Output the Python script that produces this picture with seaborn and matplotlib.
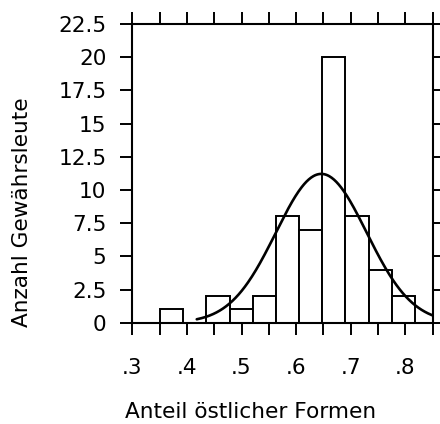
import numpy as np
import pandas as pd
import matplotlib
matplotlib.use("Agg")
import matplotlib.pyplot as plt
import seaborn as sns
from matplotlib.ticker import FixedLocator, FixedFormatter

# ---- data ----
bin_edges = [0.351, 0.3934, 0.4358, 0.4782, 0.5206, 0.563, 0.6054,
             0.6478, 0.6902, 0.7326, 0.775, 0.8174]
counts = [1, 0, 2, 1, 2, 8, 7, 20, 8, 4, 2]
# fitted normal curve (as drawn in the reference)
fit_mean = 0.646
fit_sd = 0.083
curve_start = 0.418
curve_end = 0.85

x_ticks = [0.3, 0.35, 0.4, 0.45, 0.5, 0.55, 0.6, 0.65, 0.7, 0.75, 0.8, 0.85]
x_ticklabels = [".3", "", ".4", "", ".5", "", ".6", "", ".7", "", ".8", ""]
y_ticks = [0, 2.5, 5, 7.5, 10, 12.5, 15, 17.5, 20, 22.5]
y_ticklabels = ["0", "2.5", "5", "7.5", "10", "12.5", "15", "17.5", "20", "22.5"]
x_label = "Anteil östlicher Formen"
y_label = "Anzahl Gewährsleute"

# ---- style ----
sns.set_style("ticks")
plt.rcParams["font.family"] = ["DejaVu Sans"]
plt.rcParams["text.color"] = "black"
FS = 15.6

fig = plt.figure(figsize=(4.4, 4.24), dpi=100)
W, H = 440, 424
ax = fig.add_axes([132.3 / W, 1 - 322.7 / H, (432.7 - 132.3) / W, (322.7 - 24) / H])

centers = [(bin_edges[i] + bin_edges[i + 1]) / 2 for i in range(len(counts))]
df = pd.DataFrame({"x": centers, "n": counts})
sns.histplot(data=df, x="x", weights="n", bins=bin_edges, ax=ax,
             color="white", edgecolor="black", linewidth=1.4, alpha=1.0)

n_total = sum(counts)
bw = (bin_edges[-1] - bin_edges[0]) / len(counts)
xs = np.linspace(curve_start, curve_end, 300)
ys = n_total * bw / (fit_sd * np.sqrt(2 * np.pi)) * np.exp(-0.5 * ((xs - fit_mean) / fit_sd) ** 2)
sns.lineplot(x=xs, y=ys, ax=ax, color="black", linewidth=1.9)

ax.set_xlim(0.3, 0.85)
ax.set_ylim(0, 22.5)
ax.xaxis.set_major_locator(FixedLocator(x_ticks))
ax.xaxis.set_major_formatter(FixedFormatter(x_ticklabels))
ax.yaxis.set_major_locator(FixedLocator(y_ticks))
ax.yaxis.set_major_formatter(FixedFormatter(y_ticklabels))
ax.set_xlabel("")
ax.set_ylabel("")

for s in ax.spines.values():
    s.set_visible(True)
    s.set_linewidth(1.5)
    s.set_color("black")

ax.tick_params(axis="x", which="both", direction="out", length=8.6, width=1.4,
               top=True, bottom=True, labeltop=False, labelsize=FS, pad=16.5,
               colors="black")
ax.tick_params(axis="y", which="both", direction="out", length=8.6, width=1.4,
               left=True, right=True, labelright=False, labelsize=FS, pad=10,
               colors="black")
ax.grid(False)

fig.text(251 / W, 1 - 418 / H, x_label, ha="center", va="baseline",
         fontsize=FS, color="black")
fig.text(22 / W, 1 - 212 / H, y_label, ha="center", va="center", rotation=90,
         fontsize=FS, color="black")

fig.savefig("out.png", dpi=100, facecolor="white")
